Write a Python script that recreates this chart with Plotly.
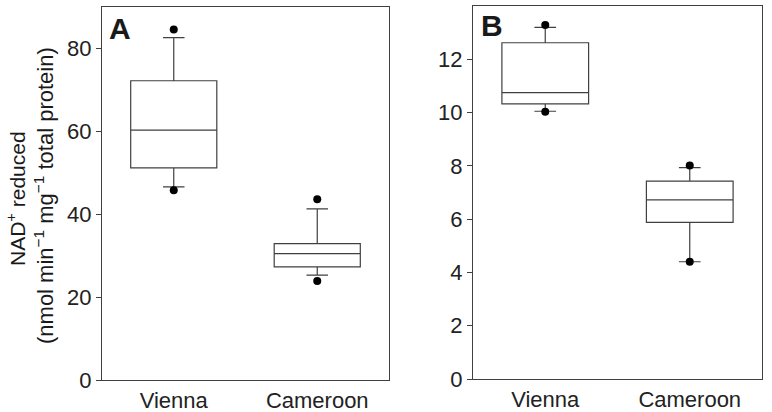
import plotly.graph_objects as go

categories = ["Vienna", "Cameroon"]

# Panel A: NAD+ reduced (nmol min-1 mg-1 total protein)
a_q1 = [51.2, 27.3]
a_median = [60.3, 30.5]
a_q3 = [72.2, 32.9]
a_lower = [46.6, 25.3]
a_upper = [82.6, 41.3]
a_dots_low = [45.8, 23.9]
a_dots_high = [84.6, 43.6]

# Panel B
b_q1 = [10.33, 5.88]
b_median = [10.75, 6.72]
b_q3 = [12.62, 7.43]
b_lower = [10.05, 4.40]
b_upper = [13.2, 7.93]
b_dots_low = [10.03, 4.40]
b_dots_high = [13.29, 8.01]

W, H = 772, 412
FONT = "Liberation Sans, Arial, sans-serif"
LINE = "#404040"

fig = go.Figure()

def add_panel(xa, ya, q1, med, q3, lo, up, dlo, dhi):
    fig.add_trace(go.Box(
        x=categories, q1=q1, median=med, q3=q3, lowerfence=lo, upperfence=up,
        width=0.6, whiskerwidth=0.25, fillcolor="rgba(255,255,255,0)",
        line=dict(color=LINE, width=1.2), boxpoints=False,
        xaxis=xa, yaxis=ya, showlegend=False, hoverinfo="skip"))
    fig.add_trace(go.Scatter(
        x=categories + categories, y=dlo + dhi, mode="markers",
        marker=dict(color="black", size=8), xaxis=xa, yaxis=ya,
        showlegend=False, hoverinfo="skip"))

add_panel("x", "y", a_q1, a_median, a_q3, a_lower, a_upper, a_dots_low, a_dots_high)
add_panel("x2", "y2", b_q1, b_median, b_q3, b_lower, b_upper, b_dots_low, b_dots_high)

def px(x):
    return x / W

def py(y):
    return 1 - y / H

axis_common = dict(showline=True, linecolor=LINE, linewidth=1.2, mirror=True,
                   showgrid=False, zeroline=False, automargin=False,
                   tickfont=dict(family=FONT, size=22, color="#222"))

def label(text, x, y, size, angle=0):
    return dict(text=text, x=px(x), y=py(y), xref="paper", yref="paper",
                xanchor="center", yanchor="middle", textangle=angle,
                showarrow=False, font=dict(family=FONT, size=size, color="#1a1a1a"))

fig.update_layout(
    width=W, height=H, autosize=False, margin=dict(l=0, r=0, t=0, b=0, pad=0, autoexpand=False),
    paper_bgcolor="white", plot_bgcolor="white",
    font=dict(family=FONT, color="#222"),
    xaxis=dict(domain=[px(102), px(389)], range=[-0.5, 1.5], ticks="",
               categoryorder="array", categoryarray=categories, **axis_common),
    yaxis=dict(domain=[py(380), py(7)], range=[0, 90], tickvals=[0, 20, 40, 60, 80],
               ticks="outside", ticklen=5, tickcolor=LINE, **axis_common),
    xaxis2=dict(domain=[px(473), px(762)], range=[-0.5, 1.5], ticks="", anchor="y2",
                categoryorder="array", categoryarray=categories, **axis_common),
    yaxis2=dict(domain=[py(379), py(6)], range=[0, 14], tickvals=[0, 2, 4, 6, 8, 10, 12],
                ticks="outside", ticklen=5, tickcolor=LINE, anchor="x2", **axis_common),
    annotations=[
        label("<b>A</b>", 120, 28.5, 30),
        label("<b>B</b>", 492, 26, 30),
        label("NAD<sup>+</sup> reduced", 16, 199, 21, -90),
        label("(nmol min<sup>\u22121</sup> mg<sup>\u22121</sup> total protein)", 44, 196, 22, -90),
    ],
)

fig.write_html("out.html",
               config={"displayModeBar": False, "responsive": False},
               post_script="document.body.style.margin='0';document.body.style.overflow='hidden';")
